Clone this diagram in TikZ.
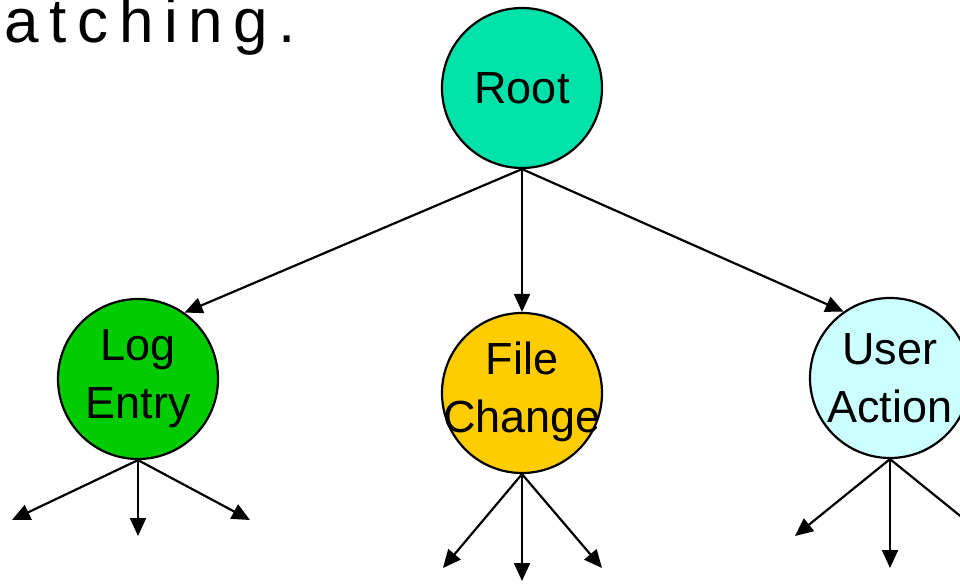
\documentclass[tikz,border=0pt]{standalone}
\usepackage{fontspec}
\setmainfont{Liberation Sans}
\usetikzlibrary{arrows.meta}
\definecolor{rootc}{RGB}{0,226,170}
\definecolor{logc}{RGB}{0,204,0}
\definecolor{filec}{RGB}{255,204,0}
\definecolor{userc}{RGB}{204,255,255}
\begin{document}
\begin{tikzpicture}[x=1pt,y=-1pt,
  bubble/.style={circle,draw=black,line width=2.2pt,minimum size=160pt,inner sep=0pt},
  bubtext/.style={align=center,inner sep=0pt,font=\fontsize{45}{58}\selectfont},
  link/.style={line width=2.2pt,-{Triangle[length=18pt,width=16pt]}}]
\useasboundingbox (0,0) rectangle (960,583);
\node[anchor=base east,inner sep=0pt,font=\fontsize{62}{70}\selectfont\addfontfeatures{LetterSpace=17}] (title) at (296,43) {Matching.};
\node[bubble,fill=rootc] (root) at (522,88) {};
\node[bubtext] (roott) at (root) {Root};
\node[bubble,fill=logc] (log) at (138,379) {};
\node[bubtext] (logt) at (log) {Log\\Entry};
\node[bubble,fill=filec] (file) at (522,393) {};
\node[bubtext] (filet) at ([yshift=1pt]file) {File\\Change};
\node[bubble,fill=userc] (user) at (890,378) {};
\node[bubtext] (usert) at (user) {User\\Action};
\draw[link] (root.south) -- (log.55);
\draw[link] (root.south) -- (file.north);
\draw[link] (root.south) -- (user.125);
\coordinate (l1) at (12,520);
\coordinate (l2) at (138,536);
\coordinate (l3) at (250,520);
\coordinate (f1) at (443,568);
\coordinate (f2) at (522,581);
\coordinate (f3) at (602,568);
\coordinate (u1) at (795,536);
\coordinate (u2) at (890,568);
\coordinate (u3) at (985,536);
\foreach \t in {l1,l2,l3} \draw[link] (log.south) -- (\t);
\foreach \t in {f1,f2,f3} \draw[link] (file.south) -- (\t);
\foreach \t in {u1,u2,u3} \draw[link] (user.south) -- (\t);
\end{tikzpicture}
\end{document}
